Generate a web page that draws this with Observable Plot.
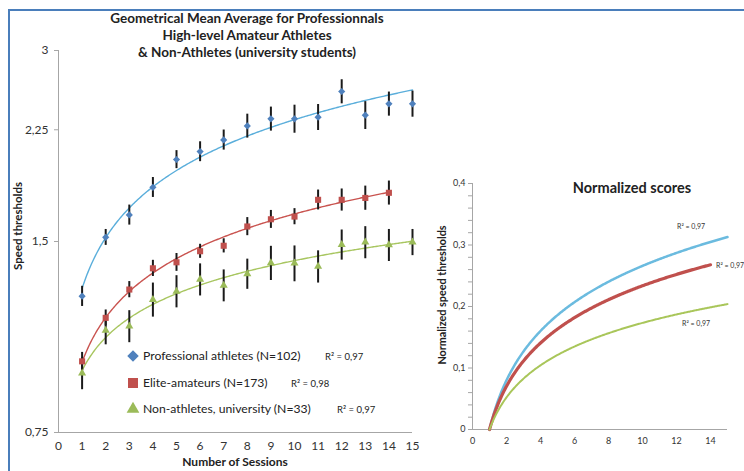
<!DOCTYPE html>
<html><head><meta charset="utf-8">
<script src="https://cdn.jsdelivr.net/npm/d3@7"></script>
<script src="https://cdn.jsdelivr.net/npm/@observablehq/plot@0.6"></script>
<style>
body{margin:0;background:#fff;}
#wrap{position:relative;width:744px;height:471px;overflow:hidden;background:#fff;font-family:Lato,"Open Sans",sans-serif;color:#222;}
.abs{position:absolute;white-space:nowrap;line-height:1;}
svg{position:absolute;}
</style></head><body><div id="wrap"></div>
<script>
// ---------- data ----------
const sessions = [1,2,3,4,5,6,7,8,9,10,11,12,13,14,15];
const proMean  = [1.230,1.523,1.652,1.826,2.020,2.079,2.169,2.282,2.341,2.341,2.355,2.585,2.372,2.472,2.472];
const proErr   = [0.045,0.044,0.060,0.066,0.066,0.075,0.079,0.099,0.102,0.119,0.111,0.113,0.120,0.108,0.117];
const eliteSessions = [1,2,3,4,5,6,7,8,9,10,11,12,13,14];
const eliteMean = [0.971,1.137,1.260,1.361,1.391,1.448,1.477,1.584,1.626,1.642,1.745,1.745,1.757,1.790];
const eliteErr  = [0.032,0.033,0.037,0.040,0.045,0.037,0.038,0.052,0.053,0.048,0.063,0.070,0.077,0.078];
const nonMean  = [0.930,1.086,1.103,1.215,1.252,1.307,1.279,1.334,1.388,1.386,1.370,1.483,1.496,1.481,1.496];
const nonErr   = [0.054,0.055,0.064,0.075,0.073,0.076,0.074,0.073,0.086,0.090,0.080,0.081,0.087,0.086,0.071];
const groupNames = ["Professional athletes (N=102)","Elite-amateurs (N=173)","Non-athletes, university (N=33)"];
const r2Labels = ["R² = 0,97","R² = 0,98","R² = 0,97"];
const speedTicks = [0.75,1.5,2.25,3];
const sessionTicks = [0,1,2,3,4,5,6,7,8,9,10,11,12,13,14,15];
const normTicks = [0,0.1,0.2,0.3,0.4];
const normMinor = [0.02,0.04,0.06,0.08,0.12,0.14,0.16,0.18,0.22,0.24,0.26,0.28,0.32,0.34,0.36,0.38];
const normXTicks = [0,2,4,6,8,10,12,14];

const markerColors = ["#4f81bd","#c0504d","#9bbb59"];
const lineColors = ["#5aaedb","#c9534f","#a8c660"];
const normColors = ["#6bbbdf","#c0504d","#a9c65a"];
const symbols = ["diamond2","square","triangle"];

const fmt = d => String(d).replace(".", ",");

// ---------- build tables ----------
const series = [
  {xs: sessions, ys: proMean, es: proErr},
  {xs: eliteSessions, ys: eliteMean, es: eliteErr},
  {xs: sessions, ys: nonMean, es: nonErr}
];
const points = [];
series.forEach((s, g) => s.xs.forEach((x, i) => points.push({g, x, y: s.ys[i], lo: s.ys[i] - s.es[i], hi: s.ys[i] + s.es[i]})));

// power trendline (least squares in log-log), as Excel's trendline
function powerFit(xs, ys) {
  const lx = xs.map(Math.log), ly = ys.map(Math.log);
  const mx = d3.mean(lx), my = d3.mean(ly);
  const b = d3.sum(lx, (v, i) => (v - mx) * (ly[i] - my)) / d3.sum(lx, v => (v - mx) ** 2);
  const a = Math.exp(my - b * mx);
  return {a, b, f: x => a * Math.pow(x, b)};
}
const trend = [], norm = [];
series.forEach((s, g) => {
  const fit = powerFit(s.xs, s.ys);
  const xmax = d3.max(s.xs);
  for (let x = 1; x <= xmax + 1e-9; x += 0.05) {
    trend.push({g, x, y: fit.f(x)});
    norm.push({g, x, y: Math.log10(fit.f(x) / fit.f(1))});
  }
});

const wrap = document.getElementById("wrap");
const gray = "#a6a6a6";

// ---------- left chart ----------
const left = Plot.plot({
  width: 430, height: 471,
  marginLeft: 58, marginRight: 18, marginTop: 50, marginBottom: 39,
  style: {fontFamily: "Lato, sans-serif", fontSize: "12px", color: "#333", background: "transparent", overflow: "visible"},
  x: {domain: [0, 15]},
  y: {type: "log", domain: [0.75, 3]},
  marks: [
    Plot.axisY({ticks: speedTicks, tickFormat: fmt, tickSize: 4, tickPadding: 6, stroke: gray, fill: "#333", fontSize: 12, label: null}),
    Plot.axisX({ticks: sessionTicks, tickSize: 0, tickPadding: 9, fill: "#333", fontSize: 12, label: null}),
    Plot.ruleX([0], {stroke: gray}),
    Plot.ruleY([0.75], {stroke: gray}),
    Plot.line(trend, {x: "x", y: "y", z: "g", stroke: d => lineColors[d.g], strokeWidth: 1.4}),
    Plot.ruleX(points, {x: "x", y1: "lo", y2: "hi", stroke: "#1a1a1a", strokeWidth: 2}),
    Plot.dot(points, {x: "x", y: "y", symbol: d => symbols[d.g], fill: d => markerColors[d.g], stroke: "none",
      r: d => [5.6, 6.3, 4.8][d.g]})
  ]
});
left.style.left = "0px"; left.style.top = "0px";
wrap.appendChild(left);

// ---------- right chart ----------
const right = Plot.plot({
  width: 314, height: 301,
  marginLeft: 42, marginRight: 17, marginTop: 13, marginBottom: 42,
  style: {fontFamily: "Lato, sans-serif", fontSize: "9px", color: "#333", background: "transparent", overflow: "visible"},
  x: {domain: [0, 15]},
  y: {domain: [0, 0.4]},
  marks: [
    Plot.axisY({ticks: normTicks, tickFormat: fmt, tickSize: 4, tickPadding: 3, stroke: gray, fill: "#333", fontSize: 9, label: null}),
    Plot.axisY({ticks: normMinor, tickFormat: () => "", tickSize: 4, stroke: gray, label: null}),
    Plot.axisX({ticks: normXTicks, tickSize: 0, tickPadding: 8, fill: "#333", fontSize: 9, label: null}),
    Plot.ruleX([0], {stroke: gray}),
    Plot.ruleY([0], {stroke: gray}),
    Plot.line(norm, {x: "x", y: "y", z: "g", stroke: d => normColors[d.g], strokeWidth: d => [2.5, 3.2, 2][d.g]})
  ]
});
right.style.left = "430px"; right.style.top = "170px";
wrap.appendChild(right);

// ---------- frame ----------
const frame = document.createElement("div");
frame.className = "abs";
Object.assign(frame.style, {left: "8px", top: "9px", width: "800px", height: "500px", borderTop: "2px solid #4a7ebb", borderLeft: "2px solid #4a7ebb"});
wrap.appendChild(frame);

// ---------- texts ----------
function addText(txt, x, y, o = {}) {
  const d = document.createElement("div");
  d.className = "abs";
  d.textContent = txt;
  d.style.left = x + "px"; d.style.top = y + "px";
  d.style.fontSize = (o.size || 12) + "px";
  if (o.bold) d.style.fontWeight = "bold";
  d.style.color = o.color || "#222";
  const ax = o.anchor === "middle" ? "-50%" : o.anchor === "end" ? "-100%" : "0";
  d.style.transform = `translate(${ax},-50%)` + (o.rotate ? ` rotate(${o.rotate}deg)` : "");
  wrap.appendChild(d);
  return d;
}
addText("Geometrical Mean Average for Professionnals", 247, 19, {size: 13.5, bold: true, anchor: "middle"});
addText("High-level Amateur Athletes", 247, 36, {size: 13.5, bold: true, anchor: "middle"});
addText("& Non-Athletes (university students)", 247, 53, {size: 13.5, bold: true, anchor: "middle"});
addText("Speed thresholds", 18, 226, {size: 11.5, bold: true, anchor: "middle", rotate: -90});
addText("Number of Sessions", 235, 462, {size: 12, bold: true, anchor: "middle"});

// legend
const legendY = [356, 383, 409];
const legendR2X = [325, 291, 337];
legendY.forEach((y, g) => {
  const svg = d3.create("svg").attr("width", 16).attr("height", 16)
    .style("left", "125px").style("top", (y - 8) + "px");
  const sym = [d3.symbolDiamond2, d3.symbolSquare, d3.symbolTriangle][g];
  const size = [85, 100, 70][g];
  svg.append("path").attr("transform", "translate(8,8)").attr("d", d3.symbol(sym, size)()).attr("fill", markerColors[g]);
  wrap.appendChild(svg.node());
  addText(groupNames[g], 143, y, {size: 12.2, color: "#222"});
  addText(r2Labels[g], legendR2X[g], y + 1, {size: 9.5, color: "#222"});
});

// right panel texts
addText("Normalized scores", 632, 188, {size: 14.5, bold: true, anchor: "middle"});
addText("Normalized speed thresholds", 442, 295, {size: 10.8, bold: true, anchor: "middle", rotate: -90});
addText("R² = 0,97", 677, 226, {size: 7, color: "#333"});
addText("R² = 0,97", 716, 265, {size: 7, color: "#333"});
addText("R² = 0,97", 682, 323, {size: 7, color: "#333"});
</script></body></html>
